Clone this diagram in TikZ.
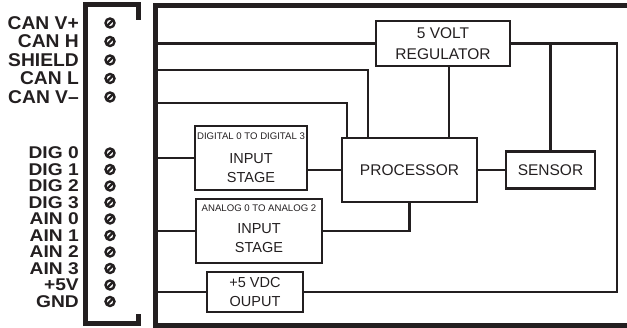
\documentclass[tikz,border=0pt]{standalone}
\usepackage{fontspec}
\setmainfont{Liberation Sans}
\usepackage{graphicx}
\definecolor{ink}{RGB}{35,31,32}
\newcommand{\wide}[2]{\scalebox{#1}[1]{#2}}
\begin{document}
\begin{tikzpicture}[x=1pt,y=-1pt,
  ink, line join=miter,
  frameln/.style={line width=5pt},
  conn/.style={line width=2.6pt},
  blk/.style={draw, line width=2.6pt, inner sep=0pt, align=center,
              font=\fontsize{15.5}{21}\selectfont},
  inner/.style={inner sep=0pt, align=center, font=\fontsize{14.5}{19}\selectfont},
  small/.style={inner sep=0pt, font=\fontsize{9.6}{10}\selectfont},
  labtop/.style={anchor=base east, inner sep=0pt, font=\bfseries\fontsize{18.5}{18.5}\selectfont},
  labbot/.style={anchor=base east, inner sep=0pt, font=\bfseries\fontsize{17}{17}\selectfont},
  screw/.style={circle, draw, line width=2.4pt, inner sep=0pt, minimum size=9pt,
    path picture={\draw[line width=2.2pt]
      ([shift={(-5pt,-5pt)}]path picture bounding box.center) --
      ([shift={(5pt,5pt)}]path picture bounding box.center);}}
]
\useasboundingbox (0,0) rectangle (627,328);

% outer frame (open to the right)
\draw[frameln] (640,6) -- (155,6) -- (155,325.5) -- (640,325.5);

% terminal bracket
\draw[frameln] (138,20) -- (138,5) -- (85,5) -- (85,324) -- (138,324) -- (138,314);

% screws and labels, upper group
\foreach \y/\t [count=\i] in {23/CAN V+, 41.5/CAN H, 60/SHIELD, 78.5/CAN L, 97/CAN V–}{
  \node[screw] (st\i) at (110,\y) {};
  \node[labtop] (lt\i) at (79,\y+6.5) {\wide{1.04}{\t}};
}
% screws and labels, lower group
\foreach \y/\t [count=\i] in {153/DIG 0, 169.5/DIG 1, 186/DIG 2, 202.5/DIG 3, 219/AIN 0,
    235.5/AIN 1, 252/AIN 2, 268.5/AIN 3, 285/+5V, 301.5/GND}{
  \node[screw] (sb\i) at (110,\y) {};
  \node[labbot] (lb\i) at (79,\y+6) {\wide{1.13}{\t}};
}

% blocks
\node[blk, minimum width=134pt, minimum height=45pt] (reg) at (443,43.5) {5 VOLT\\REGULATOR};
\node[blk, minimum width=135pt, minimum height=64pt] (proc) at (409.5,170) {PROCESSOR};
\node[blk, minimum width=89pt, minimum height=37pt] (sens) at (550.5,170) {SENSOR};
\node[blk, minimum width=112pt, minimum height=64pt] (dig) at (251,158) {};
\node[small] (digsub) at (251,136) {DIGITAL 0 TO DIGITAL 3};
\node[inner] (digtxt) at (251,168.5) {INPUT\\STAGE};
\node[blk, minimum width=126pt, minimum height=64pt] (ana) at (259,231) {};
\node[small] (anasub) at (259,208) {ANALOG 0 TO ANALOG 2};
\node[inner] (anatxt) at (259,238) {INPUT\\STAGE};
\node[blk, minimum width=96pt, minimum height=40pt] (out) at (255,292) {};
\node[inner] (outtxt) at (255,292.5) {+5 VDC\\OUPUT};

% frame tap points
\coordinate (f43) at (155,43.5);
\coordinate (f70) at (155,70);
\coordinate (k70) at (368,70);
\coordinate (f103) at (155,103);
\coordinate (k103) at (347,103);
\coordinate (f158) at (155,158);
\coordinate (f231) at (155,231);
\coordinate (f292) at (155,292);
\coordinate (rt) at (617,43.5);
\coordinate (rp) at (449,0);

% connectors
\draw[conn] (f43) -- (reg.west);
\draw[conn] (f70) -- (k70) -- (k70 |- proc.north);
\draw[conn] (f103) -- (k103) -- (k103 |- proc.north);
\draw[conn] (f158) -- (dig.west);
\draw[conn] (proc.west) -- (proc.west -| dig.east);
\draw[conn] (f231) -- (ana.west);
\draw[conn] (ana.east) -| (proc.south);
\draw[conn] (f292) -- (out.west);
\draw[conn] (out.east) -| (rt) -- (reg.east);
\draw[conn] (sens.north) -- (sens.north |- reg.east);
\draw[conn] (reg.south -| rp) -- (proc.north -| rp);
\draw[conn] (proc.east) -- (sens.west);
\end{tikzpicture}
\end{document}
